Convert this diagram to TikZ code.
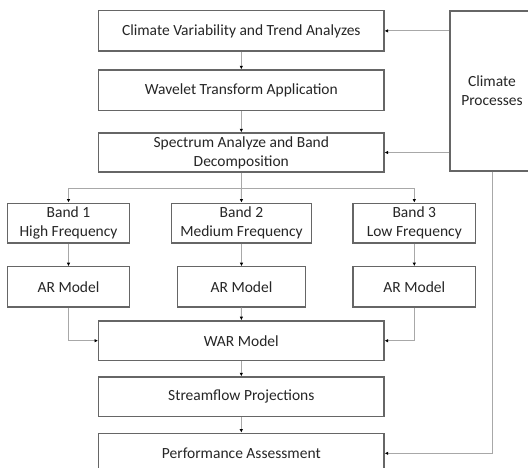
\documentclass[tikz,border=0pt]{standalone}
\usepackage{fontspec}
\setmainfont{Carlito}
\usetikzlibrary{arrows.meta}
\definecolor{boxline}{HTML}{666666}
\definecolor{conn}{HTML}{A8A8A8}
\definecolor{txt}{HTML}{262626}
\tikzset{
  box/.style={draw=boxline, line width=1.3pt, fill=white, text=txt, align=center,
    inner sep=0pt, font=\fontsize{15.5}{19}\selectfont},
  conline/.style={draw=conn, line width=1pt},
  arr/.style={conline, -{Latex[length=3.5pt,width=3.5pt,color=black]}},
}
\begin{document}
\begin{tikzpicture}[x=1pt,y=1pt]
\useasboundingbox (0,0) rectangle (528,-467);
% main column
\node[box, minimum width=285.3pt, minimum height=40.2pt] (top) at (241.3,-30.9) {Climate Variability and Trend Analyzes};
\node[box, minimum width=285.3pt, minimum height=40.4pt] (wave) at (241.3,-90.2) {Wavelet Transform Application};
\node[box, minimum width=285.3pt, minimum height=39pt] (spec) at (241.3,-152.5) {Spectrum Analyze and Band\\Decomposition};
\node[box, minimum width=84pt, minimum height=160pt] (clim) at (492,-91) {Climate\\Processes};
% bands
\node[box, minimum width=122.2pt, minimum height=39.8pt] (b1) at (68.5,-223.1) {Band 1\\High Frequency};
\node[box, minimum width=139.7pt, minimum height=39.8pt] (b2) at (241.5,-223.1) {Band 2\\Medium Frequency};
\node[box, minimum width=122.9pt, minimum height=39.8pt] (b3) at (414.3,-223.1) {Band 3\\Low Frequency};
% AR models
\node[box, minimum width=122.2pt, minimum height=40.2pt] (a1) at (68.5,-286.9) {AR Model};
\node[box, minimum width=128.3pt, minimum height=40.2pt] (a2) at (241.5,-286.9) {AR Model};
\node[box, minimum width=122.9pt, minimum height=40.2pt] (a3) at (414.3,-286.9) {AR Model};
% lower column
\node[box, minimum width=285.3pt, minimum height=39.7pt] (war) at (241.3,-340.7) {WAR Model};
\node[box, minimum width=285.3pt, minimum height=39.5pt] (stream) at (241.3,-396.7) {Streamflow Projections};
\node[box, minimum width=285.3pt, minimum height=40pt] (perf) at (241.3,-453.3) {Performance Assessment};
% connectors
\draw[arr] (top) -- (wave);
\draw[arr] (wave) -- (spec);
\draw[arr] (top.east -| clim.west) -- (top.east);
\draw[arr] (spec.east -| clim.west) -- (spec.east);
\draw[conline] (spec.south) -- ++(0,-16) coordinate (br);
\draw[arr] (br) -| (b1.north);
\draw[arr] (br) -- (b2.north);
\draw[arr] (br) -| (b3.north);
\draw[arr] (b1) -- (a1);
\draw[arr] (b2) -- (a2);
\draw[arr] (b3) -- (a3);
\draw[arr] (a1.south) |- (war.west);
\draw[arr] (a2.south) -- (war.north);
\draw[arr] (a3.south) |- (war.east);
\draw[arr] (war) -- (stream);
\draw[arr] (stream) -- (perf);
\draw[arr] (clim.south) |- (perf.east);
\end{tikzpicture}
\end{document}
